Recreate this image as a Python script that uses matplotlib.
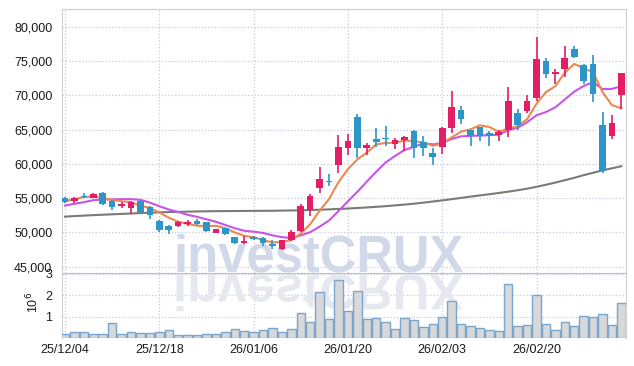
import numpy as np
import matplotlib.pyplot as plt
import matplotlib.transforms as mtransforms
from matplotlib.ticker import FuncFormatter
from matplotlib.textpath import TextPath
from matplotlib.patches import PathPatch
from matplotlib.font_manager import FontProperties

plt.rcParams['font.family'] = ['Liberation Sans', 'DejaVu Sans']

# trading days shown on the chart
dates = ['25/12/04', '25/12/05', '25/12/08', '25/12/09', '25/12/10', '25/12/11', '25/12/12', '25/12/15', '25/12/16', '25/12/17',
         '25/12/18', '25/12/19', '25/12/22', '25/12/23', '25/12/24', '25/12/26', '25/12/29', '25/12/30', '26/01/02', '26/01/05',
         '26/01/06', '26/01/07', '26/01/08', '26/01/09', '26/01/12', '26/01/13', '26/01/14', '26/01/15', '26/01/16', '26/01/19',
         '26/01/20', '26/01/21', '26/01/22', '26/01/23', '26/01/26', '26/01/27', '26/01/28', '26/01/29', '26/01/30', '26/02/02',
         '26/02/03', '26/02/04', '26/02/05', '26/02/06', '26/02/09', '26/02/10', '26/02/11', '26/02/12', '26/02/13', '26/02/19',
         '26/02/20', '26/02/23', '26/02/24', '26/02/25', '26/02/26', '26/02/27', '26/03/03', '26/03/04', '26/03/05', '26/03/06']

opens = [55000, 54550, 55300, 55050, 55800, 54600, 53900, 53600, 54600, 53700,
         51700, 51000, 50950, 51200, 51700, 51450, 49900, 50600, 49300, 48400,
         49350, 49250, 48350, 47550, 48850, 50200, 53200, 56500, 57500, 59900,
         62250, 66800, 62250, 63650, 63800, 62900, 63450, 64750, 63200, 61600,
         62400, 65250, 67850, 64950, 65350, 64500, 64250, 64950, 67450, 67700,
         69650, 75050, 73100, 73850, 76750, 74400, 74550, 65600, 64050, 70000]
highs = [55100, 55100, 55700, 55800, 55900, 54700, 54400, 54600, 54700, 53800,
         51800, 51050, 51600, 51800, 52000, 51500, 50550, 50650, 49400, 49500,
         49500, 49400, 48900, 48900, 50300, 54100, 55550, 59500, 58450, 64250,
         64350, 67200, 63050, 65250, 65500, 63800, 64050, 65000, 64050, 62350,
         65400, 70650, 68450, 65000, 65400, 64800, 65000, 71250, 67950, 70000,
         78550, 75450, 73850, 77250, 77250, 74500, 75900, 67550, 67100, 73300]
lows = [54300, 54350, 55000, 54950, 54050, 53200, 53500, 52700, 52900, 52000,
        50100, 49800, 50750, 50900, 51150, 50050, 49850, 49550, 48300, 48350,
        48900, 48050, 47550, 47450, 48800, 50100, 52400, 55800, 56750, 58700,
        61250, 60900, 61300, 62450, 62600, 62100, 61850, 60900, 61150, 59900,
        61400, 64550, 65850, 62600, 63300, 62600, 63400, 63900, 64900, 67450,
        69200, 72500, 71650, 72600, 75400, 71600, 68950, 58650, 63550, 67950]
closes = [54450, 55050, 55100, 55600, 54200, 53700, 54100, 54450, 53000, 52600,
          50400, 50300, 51450, 51450, 51250, 50150, 50500, 49700, 48400, 48800,
          49050, 48450, 47950, 48850, 50050, 53850, 55300, 57750, 57350, 62450,
          63300, 62350, 62800, 63250, 63550, 63450, 63950, 62350, 62350, 61050,
          65200, 68300, 66600, 64000, 64000, 64000, 64650, 69100, 65600, 69200,
          75300, 73100, 73450, 75450, 75550, 72100, 70250, 59000, 65900, 73250]

# moving averages as drawn (5, 10 and long period)
ma_short = [54560, 54850, 55150, 55250, 55000, 54730, 54540, 54410, 53890, 53570,
            52910, 52150, 51550, 51240, 50970, 50920, 50960, 50610, 50000, 49510,
            49290, 48880, 48530, 48620, 48870, 49830, 51200, 53160, 54860, 57340,
            59230, 60640, 61650, 62830, 63050, 63080, 63400, 63310, 63130, 62630,
            62980, 63850, 64700, 65030, 65620, 65380, 64650, 65150, 65470, 66510,
            68770, 70460, 71330, 73300, 74570, 73930, 73360, 70470, 68560, 68100]
ma_mid = [53920, 54170, 54410, 54700, 54800, 54820, 54850, 54850, 54750, 54350,
          53820, 53345, 52980, 52565, 52270, 51915, 51555, 51080, 50620, 50240,
          50105, 49920, 49570, 49310, 49190, 49560, 50040, 50845, 51740, 53105,
          54530, 55920, 57405, 58845, 60195, 61155, 62020, 62480, 62980, 62840,
          63030, 63625, 64005, 64080, 64125, 64180, 64250, 64925, 65250, 66065,
          67075, 67555, 68240, 69385, 70540, 71350, 71910, 70900, 70930, 71335]
ma_long = [52300, 52380, 52450, 52520, 52580, 52640, 52700, 52760, 52820, 52880,
           52930, 52970, 53000, 53030, 53060, 53080, 53100, 53110, 53120, 53130,
           53140, 53150, 53160, 53180, 53200, 53230, 53270, 53310, 53360, 53420,
           53480, 53560, 53640, 53730, 53830, 53940, 54060, 54190, 54340, 54500,
           54670, 54850, 55030, 55220, 55400, 55570, 55750, 55940, 56150, 56380,
           56650, 56950, 57270, 57610, 57960, 58350, 58700, 59050, 59350, 59650]

volumes = [170000, 290000, 260000, 200000, 200000, 710000, 200000, 290000, 250000, 250000,
           290000, 380000, 150000, 140000, 140000, 200000, 200000, 290000, 430000, 340000,
           290000, 380000, 480000, 290000, 430000, 1170000, 750000, 2140000, 890000, 2740000,
           1260000, 2180000, 890000, 940000, 750000, 430000, 940000, 850000, 520000, 660000,
           980000, 1720000, 660000, 570000, 480000, 380000, 340000, 2550000, 570000, 620000,
           2000000, 660000, 380000, 750000, 570000, 1030000, 980000, 1120000, 620000, 1630000]

UP = '#e31d66'
DOWN = '#2e95c9'
GRID = '#c6c9dc'
SPINE = '#cfcfcf'
LABEL = '#1a1a1a'

o = np.array(opens)
h = np.array(highs)
l = np.array(lows)
c = np.array(closes)
x = np.arange(len(c))
col = np.where(c >= o, UP, DOWN)

fig = plt.figure(figsize=(6.34, 3.66), dpi=100)
W, H = 634, 366
ax = fig.add_axes([62 / W, 1 - 272.7 / H, 564 / W, (272.7 - 9) / H])
axv = fig.add_axes([62 / W, 1 - 338 / H, 564 / W, (338 - 272.7) / H], sharex=ax)
axv.set_facecolor('none')

# candles
ax.vlines(x, l, h, colors=col, lw=1.2, zorder=3)
ax.bar(x, np.maximum(np.abs(c - o), 130), bottom=np.minimum(o, c), width=0.7,
       color=col, zorder=4)

ax.plot(x, ma_long, color='#7a7a7a', lw=1.5, zorder=2.5)
ax.plot(x, ma_mid, color='#c954e8', lw=1.5, zorder=2.6)
ax.plot(x, ma_short, color='#ee8850', lw=1.5, zorder=2.7)

ax.set_xlim(-0.32, 59.49)
ax.set_ylim(44125, 82580)
ax.set_yticks(range(45000, 80001, 5000))
ax.yaxis.set_major_formatter(FuncFormatter(lambda v, p: f'{v:,.0f}'))
ax.set_xticks(range(0, 60, 10))
ax.tick_params(axis='x', labelbottom=False, length=0)
ax.tick_params(axis='y', length=0, pad=7, labelsize=9, labelcolor=LABEL)
ax.grid(True, color=GRID, ls=':', lw=0.9)
ax.set_axisbelow(True)
for s in ax.spines.values():
    s.set_color(SPINE)
ax.spines['bottom'].set_color('#bdbdbd')

# volume panel
vol = np.array(volumes) / 1e6
axv.bar(x, vol, width=0.9, color='#d8d8d8', edgecolor='#78a6cf', lw=1, zorder=3)
axv.set_ylim(0, 3.06)
axv.set_yticks([1, 2, 3])
axv.set_xticks(range(0, 60, 10))
axv.set_xticklabels(dates[::10])
axv.tick_params(length=0, labelsize=9, labelcolor=LABEL)
axv.tick_params(axis='y', pad=7)
axv.tick_params(axis='x', pad=4)
axv.grid(True, color=GRID, ls=':', lw=0.9)
axv.set_axisbelow(True)
for s in axv.spines.values():
    s.set_color(SPINE)
axv.spines['top'].set_visible(False)
axv.spines['bottom'].set_visible(False)
axv.text(-0.051, 0.55, '10$^6$', transform=axv.transAxes, rotation=90,
         ha='center', va='center', fontsize=9, color=LABEL)

# watermark and its reflection
wm_size = 36.5
ax.text(173 / W, 1 - 271.5 / H, 'investCRUX', transform=fig.transFigure,
        fontsize=wm_size, fontweight='bold', color='#d1d8e8', ha='left', va='baseline',
        zorder=1, clip_on=False)
tp = TextPath((0, 0), 'investCRUX', size=wm_size * 100 / 72,
              prop=FontProperties(family='Liberation Sans', weight='bold'))
flip = mtransforms.Affine2D().scale(1, -1).translate(173, H - 274.5)
axv.add_patch(PathPatch(tp, transform=flip, facecolor='#e6e8ef', edgecolor='none',
                        zorder=1, clip_on=False))

fig.savefig('out.png', dpi=100)
